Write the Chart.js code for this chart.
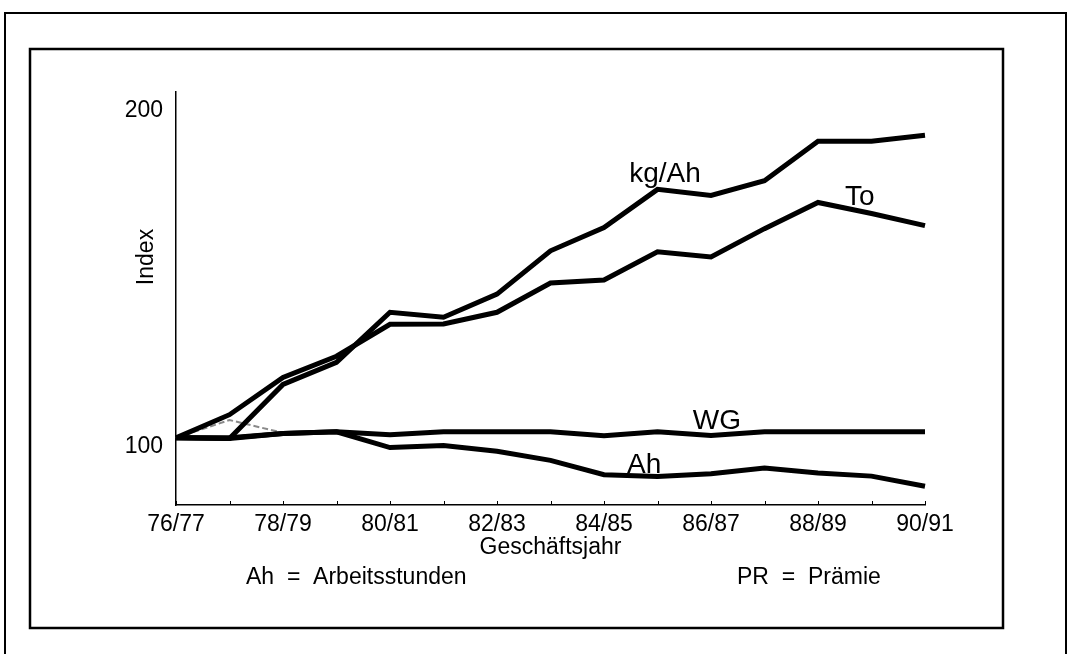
<!DOCTYPE html>
<html>
<head>
<meta charset="utf-8">
<script src="https://cdn.jsdelivr.net/npm/chart.js@4"></script>
<style>
  html, body { margin: 0; padding: 0; background: #fff; }
  #wrap { width: 1068px; height: 654px; position: relative; }
</style>
</head>
<body>
<div id="wrap"><canvas id="c" width="1068" height="654"></canvas></div>
<script>
// ---- data ----
const categories = ['76/77','77/78','78/79','79/80','80/81','81/82','82/83','83/84','84/85','85/86','86/87','87/88','88/89','89/90','90/91'];
const xTickLabels = ['76/77','','78/79','','80/81','','82/83','','84/85','','86/87','','88/89','','90/91'];
const yTickValues = [100, 200];
const kgAh = [100, 99.8, 115.9, 122.5, 137.4, 135.9, 142.8, 155.7, 162.6, 174.0, 172.2, 176.6, 188.3, 188.3, 190.1];
const to   = [100, 106.9, 118.0, 124.3, 133.8, 133.9, 137.4, 146.1, 147.0, 155.4, 153.9, 162.3, 170.1, 166.8, 163.2];
const wg   = [100, 99.8, 101.3, 101.8, 100.9, 101.8, 101.8, 101.8, 100.6, 101.8, 100.7, 101.8, 101.8, 101.8, 101.8];
const ah   = [100, 100.0, 101.3, 101.8, 97.1, 97.7, 96.0, 93.3, 89.0, 88.5, 89.3, 91.0, 89.5, 88.6, 85.6];
const pr   = [100, 105.3, 101.5, 101.8, 97.1, null, null, null, null, null, null, null, null, null, null];
const seriesLabels = [
  { text: 'kg/Ah', index: 9.14, value: 176.2 },
  { text: 'To',    index: 12.78, value: 169.3 },
  { text: 'WG',    index: 10.11, value: 102.6 },
  { text: 'Ah',    index: 8.75,  value: 89.6 }
];

const FONT = "'Liberation Sans', Arial, Helvetica, sans-serif";

const decor = {
  id: 'decor',
  beforeDraw(chart) {
    const ctx = chart.ctx;
    ctx.save();
    ctx.fillStyle = '#fff';
    ctx.fillRect(0, 0, chart.width, chart.height);
    ctx.strokeStyle = '#000';
    ctx.lineWidth = 2;
    ctx.strokeRect(5, 13, 1061, 700);
    ctx.lineWidth = 2.5;
    ctx.strokeRect(30, 49, 973, 579);
    ctx.restore();
  },
  afterDatasetsDraw(chart) {
    const ctx = chart.ctx;
    const x = chart.scales.x, y = chart.scales.y;
    ctx.save();
    // small inward ticks on x axis
    ctx.strokeStyle = '#000';
    ctx.lineWidth = 1;
    for (let i = 0; i < categories.length; i++) {
      const px = Math.round(x.getPixelForValue(i)) + 0.5;
      ctx.beginPath();
      ctx.moveTo(px, y.bottom);
      ctx.lineTo(px, y.bottom - 4);
      ctx.stroke();
    }
    // series labels
    ctx.fillStyle = '#000';
    ctx.font = '28px ' + FONT;
    ctx.textAlign = 'center';
    ctx.textBaseline = 'alphabetic';
    seriesLabels.forEach(l => {
      ctx.fillText(l.text, x.getPixelForValue(l.index), y.getPixelForValue(l.value));
    });
    // axis titles / notes
    ctx.font = '23px ' + FONT;
    ctx.textBaseline = 'middle';
    ctx.fillText('Geschäftsjahr', (x.left + x.right) / 2, 548);
    ctx.textAlign = 'left';
    ctx.fillText('Ah  =  Arbeitsstunden', 246, 578);
    ctx.fillText('PR  =  Prämie', 737, 578);
    ctx.translate(147, 257);
    ctx.rotate(-Math.PI / 2);
    ctx.textAlign = 'center';
    ctx.fillText('Index', 0, 0);
    ctx.restore();
  }
};

const lineDs = (label, data, w, color, extra) => Object.assign({
  label, data,
  borderColor: color,
  backgroundColor: color,
  borderWidth: w,
  pointRadius: 0,
  tension: 0,
  fill: false,
  spanGaps: false
}, extra || {});

new Chart(document.getElementById('c'), {
  type: 'line',
  data: {
    labels: categories,
    datasets: [
      lineDs('Ah', ah, 5, '#000'),
      lineDs('WG', wg, 5, '#000'),
      lineDs('kg/Ah', kgAh, 5, '#000'),
      lineDs('To', to, 5, '#000'),
      lineDs('PR', pr, 2, '#8a8a8a', { borderDash: [6, 3] })
    ]
  },
  options: {
    responsive: false,
    animation: false,
    events: [],
    layout: { padding: { left: 0, right: 143, top: 92, bottom: 109 } },
    plugins: { legend: { display: false }, tooltip: { enabled: false }, title: { display: false } },
    scales: {
      x: {
        type: 'category',
        offset: false,
        grid: { display: false, drawTicks: false },
        border: { display: true, color: '#000', width: 1.5 },
        ticks: {
          autoSkip: false, maxRotation: 0, minRotation: 0, padding: 6,
          color: '#000', font: { family: FONT, size: 23 },
          callback: (v, i) => xTickLabels[i]
        },
        afterFit: s => { s.height = 40; }
      },
      y: {
        min: 80, max: 203,
        grid: { display: false, drawTicks: false },
        border: { display: true, color: '#000', width: 1.5 },
        afterBuildTicks: s => { s.ticks = yTickValues.map(v => ({ value: v })); },
        ticks: {
          padding: 13, labelOffset: 9,
          color: '#000', font: { family: FONT, size: 23 }
        },
        afterFit: s => { s.width = 176; }
      }
    }
  },
  plugins: [decor]
});
</script>
</body>
</html>
